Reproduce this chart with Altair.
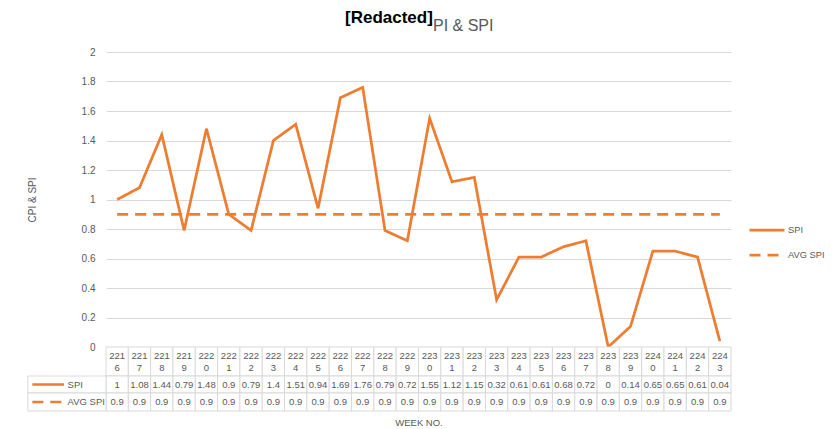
import altair as alt
import pandas as pd

weeks = ["2216", "2217", "2218", "2219", "2220", "2221", "2222", "2223", "2224", "2225",
         "2226", "2227", "2228", "2229", "2230", "2231", "2232", "2233", "2234", "2235",
         "2236", "2237", "2238", "2239", "2240", "2241", "2242", "2243"]
spi = [1, 1.08, 1.44, 0.79, 1.48, 0.9, 0.79, 1.4, 1.51, 0.94, 1.69, 1.76, 0.79, 0.72,
       1.55, 1.12, 1.15, 0.32, 0.61, 0.61, 0.68, 0.72, 0, 0.14, 0.65, 0.65, 0.61, 0.04]
avg_spi = [0.9, 0.9, 0.9, 0.9, 0.9, 0.9, 0.9, 0.9, 0.9, 0.9, 0.9, 0.9, 0.9, 0.9,
           0.9, 0.9, 0.9, 0.9, 0.9, 0.9, 0.9, 0.9, 0.9, 0.9, 0.9, 0.9, 0.9, 0.9]
series_names = ["SPI", "AVG SPI"]
y_ticks = [0, 0.2, 0.4, 0.6, 0.8, 1, 1.2, 1.4, 1.6, 1.8, 2]

ORANGE = "#ED7D31"
GRAY = "#595959"
GRID = "#d9d9d9"
FONT = "Liberation Sans"
NARROW = "Liberation Sans Narrow, Liberation Sans, sans-serif"
DASH = [11, 7]

rows = []
for w, s, a in zip(weeks, spi, avg_spi):
    rows.append({"week": w, "series": "SPI", "value": s})
    rows.append({"week": w, "series": "AVG SPI", "value": a})
df = pd.DataFrame(rows)

legend_opts = dict(title=None, orient="none", legendX=642, legendY=159,
                   symbolType="stroke", symbolSize=1225, symbolStrokeWidth=2.75,
                   labelFont=FONT, labelFontSize=9.3, labelColor=GRAY, labelOffset=2,
                   rowPadding=-12)

line = alt.Chart(df).mark_line(strokeWidth=2.75).encode(
    x=alt.X("week:O", sort=weeks, scale=alt.Scale(type="point", padding=0.5), axis=None),
    y=alt.Y("value:Q", scale=alt.Scale(domain=[0, 2], nice=False),
            axis=alt.Axis(values=y_ticks, format="~g", grid=True, gridColor=GRID,
                          domain=False, ticks=False, labelColor=GRAY, labelFontSize=10,
                          labelFont=FONT, labelPadding=11, title="CPI & SPI",
                          titleFont=FONT, titleFontSize=10, titleFontWeight="normal",
                          titleColor=GRAY, titlePadding=44)),
    color=alt.Color("series:N", scale=alt.Scale(domain=series_names, range=[ORANGE, ORANGE]),
                    legend=alt.Legend(**legend_opts)),
    strokeDash=alt.StrokeDash("series:N", scale=alt.Scale(domain=series_names, range=[[1, 0], DASH]),
                              legend=alt.Legend(**legend_opts)),
).properties(
    width=625, height=295,
    title=alt.TitleParams(text="PI & SPI", font=NARROW, fontSize=16, fontWeight="normal",
                          color=GRAY, anchor="start", frame="group", dx=327, offset=13),
)

# ---- data table below the plot ----
HDR = (0, 29)
ROW_SPI = (29, 46)
ROW_AVG = (46, 64)

cells = []
for i, (w, s, a) in enumerate(zip(weeks, spi, avg_spi)):
    for (r0, r1) in (HDR, ROW_SPI, ROW_AVG):
        cells.append({"x0": i, "x1": i + 1, "y0": r0, "y1": r1})
cells.append({"x0": -3.5, "x1": 0, "y0": ROW_SPI[0], "y1": ROW_SPI[1]})
cells.append({"x0": -3.5, "x1": 0, "y0": ROW_AVG[0], "y1": ROW_AVG[1]})
cells_df = pd.DataFrame(cells)

txt = pd.DataFrame({
    "xc": [i + 0.5 for i in range(len(weeks))],
    "top": [w[:3] for w in weeks],
    "bot": [w[3:] for w in weeks],
    "spi": spi,
    "avg": avg_spi,
})

xs = alt.Scale(domain=[0, 28], nice=False, zero=False)
ys = alt.Scale(domain=[0, 64], nice=False, zero=False, reverse=True)

rect = alt.Chart(cells_df).mark_rect(fill="white", stroke=GRID, strokeWidth=1).encode(
    x=alt.X("x0:Q", scale=xs,
            axis=alt.Axis(title="WEEK NO.", labels=False, ticks=False, domain=False, grid=False,
                          titleFont=FONT, titleFontSize=9.5, titleFontWeight="normal",
                          titleColor=GRAY, titlePadding=6)),
    x2="x1:Q",
    y=alt.Y("y0:Q", scale=ys, axis=None),
    y2="y1:Q",
)

tbase = alt.Chart(txt)
tstyle = dict(font=FONT, fontSize=9.5, color=GRAY, baseline="middle", align="center")
t_top = tbase.mark_text(**tstyle).encode(x="xc:Q", y=alt.datum(8.5), text="top:N")
t_bot = tbase.mark_text(**tstyle).encode(x="xc:Q", y=alt.datum(20.5), text="bot:N")
t_spi = tbase.mark_text(**tstyle).encode(x="xc:Q", y=alt.datum(37.5), text=alt.Text("spi:Q", format="~g"))
t_avg = tbase.mark_text(**tstyle).encode(x="xc:Q", y=alt.datum(55), text=alt.Text("avg:Q", format="~g"))

lab = pd.DataFrame({"series": series_names, "yc": [37.5, 55]})
lab_spi = alt.Chart(lab[lab.series == "SPI"]).mark_rule(strokeWidth=2.5, color=ORANGE).encode(
    x=alt.datum(-3.3), x2=alt.datum(-1.88), y="yc:Q")
lab_avg = alt.Chart(lab[lab.series == "AVG SPI"]).mark_rule(strokeWidth=2.5, color=ORANGE,
                                                            strokeDash=DASH).encode(
    x=alt.datum(-3.3), x2=alt.datum(-1.88), y="yc:Q")
lab_text = alt.Chart(lab).mark_text(font=FONT, fontSize=9.5, color=GRAY, baseline="middle",
                                    align="left").encode(x=alt.datum(-1.72), y="yc:Q", text="series:N")

table = alt.layer(rect, t_top, t_bot, t_spi, t_avg, lab_spi, lab_avg, lab_text).properties(
    width=625, height=64)

chart = alt.vconcat(line, table, spacing=0, bounds="flush").properties(
    title=alt.TitleParams(text="[Redacted]", font=NARROW, fontSize=17, fontWeight="bold",
                          color="#000000", anchor="start", frame="group", dx=239, offset=-9),
    padding={"left": 19, "top": 1, "right": 0, "bottom": 0},
    background="white",
).configure_view(stroke=None)

chart.save("out.html", embed_options={"renderer": "svg", "actions": False})
